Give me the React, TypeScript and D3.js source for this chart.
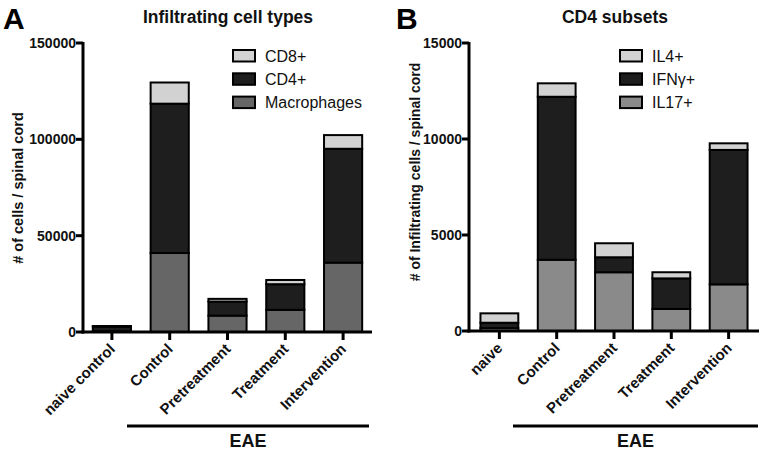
import React from "react";
import * as d3 from "d3";

const categoriesA = ["naive control", "Control", "Pretreatment", "Treatment", "Intervention"];
const macrophagesA = [400, 41000, 8500, 11500, 36000];
const cd4A = [2400, 77500, 7300, 13300, 59100];
const cd8A = [300, 11000, 1400, 2200, 7100];
const seriesNamesA = ["Macrophages", "CD4+", "CD8+"];
const ticksA = [0, 50000, 100000, 150000];

const categoriesB = ["naive", "Control", "Pretreatment", "Treatment", "Intervention"];
const il17B = [150, 3710, 3060, 1150, 2430];
const ifngB = [280, 8490, 780, 1590, 7000];
const il4B = [490, 700, 730, 320, 345];
const seriesNamesB = ["IL17+", "IFNγ+", "IL4+"];
const ticksB = [0, 5000, 10000, 15000];

const FONT = "'Liberation Sans', Arial, Helvetica, sans-serif";

type PanelProps = {
  letter: string;
  letterX: number;
  title: string;
  titleX: number;
  yLabel: string;
  yLabelX: number;
  yLabelY: number;
  yLabelSize: number;
  categories: string[];
  series: number[][];
  names: string[];
  colors: string[];
  ticks: number[];
  yMax: number;
  axisX: number;
  axisEnd: number;
  y0: number;
  yTop: number;
  paddingOuter: number;
  legendX: number;
  eaeX0: number;
  eaeX1: number;
};

function Panel(p: PanelProps) {
  const x = d3
    .scaleBand<string>()
    .domain(p.categories)
    .range([p.axisX, p.axisEnd])
    .paddingInner(0.34)
    .paddingOuter(p.paddingOuter);
  const y = d3.scaleLinear().domain([0, p.yMax]).range([p.y0, p.yTop]);
  const table = p.categories.map((c, i) => {
    const row: any = { cat: c };
    p.names.forEach((n, k) => (row[n] = p.series[k][i]));
    return row;
  });
  const stacked = d3.stack<any>().keys(p.names)(table);
  const bw = x.bandwidth();
  const legendOrder = [...p.names].reverse();
  const legendColors = [...p.colors].reverse();
  return (
    <g fontFamily={FONT}>
      <text x={p.letterX} y={29} fontSize={30} fontWeight="bold" fill="#000">
        {p.letter}
      </text>
      <text x={p.titleX} y={23} fontSize={17.5} fontWeight="bold" textAnchor="middle" fill="#111">
        {p.title}
      </text>
      <text
        transform={`translate(${p.yLabelX},${p.yLabelY}) rotate(-90)`}
        textAnchor="middle"
        fontSize={p.yLabelSize}
        fontWeight="bold"
        fill="#111"
      >
        {p.yLabel}
      </text>
      {stacked.map((layer, k) =>
        layer.map((d, i) => (
          <rect
            key={`${k}-${i}`}
            x={x(p.categories[i])!}
            y={y(d[1])}
            width={bw}
            height={Math.max(0, y(d[0]) - y(d[1]))}
            fill={p.colors[k]}
            stroke="#000"
            strokeWidth={2}
          />
        ))
      )}
      <line x1={p.axisX} x2={p.axisX} y1={p.yTop - 1} y2={p.y0 + 1.5} stroke="#000" strokeWidth={3} />
      <line x1={p.axisX - 1.5} x2={p.axisEnd} y1={p.y0} y2={p.y0} stroke="#000" strokeWidth={3} />
      {p.ticks.map((t) => (
        <g key={t}>
          <line x1={p.axisX - 7} x2={p.axisX} y1={y(t)} y2={y(t)} stroke="#000" strokeWidth={3} />
          <text
            x={p.axisX - 7}
            y={y(t)}
            dy="0.36em"
            textAnchor="end"
            fontSize={14}
            fontWeight="bold"
            fill="#111"
          >
            {t}
          </text>
        </g>
      ))}
      {p.categories.map((c) => {
        const cx = x(c)! + bw / 2;
        return (
          <g key={c}>
            <line x1={cx} x2={cx} y1={p.y0} y2={p.y0 + 8} stroke="#000" strokeWidth={3} />
            <text
              transform={`translate(${cx + 4},${p.y0 + 18}) rotate(-45)`}
              textAnchor="end"
              fontSize={15}
              fontWeight="bold"
              fill="#111"
            >
              {c}
            </text>
          </g>
        );
      })}
      {legendOrder.map((n, k) => (
        <g key={n}>
          <rect
            x={p.legendX}
            y={50 + k * 23.3}
            width={22}
            height={11.5}
            fill={legendColors[k]}
            stroke="#000"
            strokeWidth={2}
          />
          <text x={p.legendX + 32} y={56 + k * 23.3} dy="0.36em" fontSize={16} fill="#111">
            {n}
          </text>
        </g>
      ))}
      <line x1={p.eaeX0} x2={p.eaeX1} y1={426} y2={426} stroke="#000" strokeWidth={3} />
      <text
        x={(p.eaeX0 + p.eaeX1) / 2}
        y={447}
        textAnchor="middle"
        fontSize={18}
        fontWeight="bold"
        fill="#111"
      >
        EAE
      </text>
    </g>
  );
}

export default function App() {
  return (
    <svg
      width={762}
      height={450}
      style={{ position: "absolute", left: 0, top: 0, background: "#fff" }}
    >
      <rect width={762} height={450} fill="#fff" />
      <Panel
        letter="A"
        letterX={3}
        title="Infiltrating cell types"
        titleX={228}
        yLabel="# of cells / spinal cord"
        yLabelX={23}
        yLabelY={188}
        yLabelSize={14.5}
        categories={categoriesA}
        series={[macrophagesA, cd4A, cd8A]}
        names={seriesNamesA}
        colors={["#666666", "#1e1e1e", "#d2d2d2"]}
        ticks={ticksA}
        yMax={150000}
        axisX={83}
        axisEnd={372}
        y0={332}
        yTop={43}
        paddingOuter={0.17}
        legendX={233}
        eaeX0={127}
        eaeX1={369}
      />
      <Panel
        letter="B"
        letterX={396}
        title="CD4 subsets"
        titleX={615}
        yLabel="# of Infiltrating cells / spinal cord"
        yLabelX={420}
        yLabelY={172}
        yLabelSize={14}
        categories={categoriesB}
        series={[il17B, ifngB, il4B]}
        names={seriesNamesB}
        colors={["#8a8a8a", "#1e1e1e", "#d2d2d2"]}
        ticks={ticksB}
        yMax={15000}
        axisX={469}
        axisEnd={759}
        y0={331}
        yTop={43}
        paddingOuter={0.2}
        legendX={620}
        eaeX0={513}
        eaeX1={758}
      />
    </svg>
  );
}
